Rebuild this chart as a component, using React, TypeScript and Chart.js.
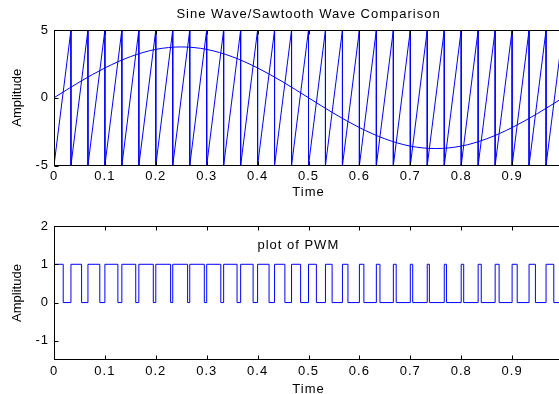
import React, { useEffect, useRef } from 'react';
import { Chart, registerables } from 'chart.js';

Chart.register(...registerables);

// ---------- data ----------
const xTickValues = [0, 0.1, 0.2, 0.3, 0.4, 0.5, 0.6, 0.7, 0.8, 0.9, 1];
const xTickLabels = ['0', '0.1', '0.2', '0.3', '0.4', '0.5', '0.6', '0.7', '0.8', '0.9', '1'];
const topYTickValues = [-5, 0, 5];
const topYTickLabels = ['-5', '0', '5'];
const bottomYTickValues = [-1, 0, 1, 2];
const bottomYTickLabels = ['-1', '0', '1', '2'];

const topTitle = 'Sine Wave/Sawtooth Wave Comparison';
const bottomNote = 'plot of PWM';
const bottomNoteAt = { x: 0.48, y: 1.5 };
const xTitle = 'Time';
const yTitle = 'Amplitude';

const sineTimes = [0, 0.05, 0.1, 0.15, 0.2, 0.25, 0.3, 0.35, 0.4, 0.45, 0.5, 0.55, 0.6, 0.65, 0.7, 0.75, 0.8, 0.85, 0.9, 0.95, 1];
const sineValues = [0, 1.16, 2.2, 3.03, 3.57, 3.75, 3.57, 3.03, 2.2, 1.16, 0, -1.16, -2.2, -3.03, -3.57, -3.75, -3.57, -3.03, -2.2, -1.16, 0];

const sawLow = -5;
const sawHigh = 5;
const sawPeakTimes = [0.0333, 0.0667, 0.1, 0.1333, 0.1667, 0.2, 0.2333, 0.2667, 0.3, 0.3333, 0.3667, 0.4, 0.4333, 0.4667, 0.5, 0.5333, 0.5667, 0.6, 0.6333, 0.6667, 0.7, 0.7333, 0.7667, 0.8, 0.8333, 0.8667, 0.9, 0.9333, 0.9667, 1.0];

const pwmTimes = [0, 0.0181, 0.0333, 0.0542, 0.0667, 0.09, 0.1, 0.1255, 0.1333, 0.1606, 0.1667, 0.1951, 0.2, 0.2291, 0.2333, 0.2625, 0.2667, 0.2953, 0.3, 0.3277, 0.3333, 0.3596, 0.3667, 0.3912, 0.4, 0.4225, 0.4333, 0.4536, 0.4667, 0.4845, 0.5, 0.5155, 0.5333, 0.5464, 0.5667, 0.5775, 0.6, 0.6088, 0.6333, 0.6404, 0.6667, 0.6723, 0.7, 0.7047, 0.7333, 0.7375, 0.7667, 0.771, 0.8, 0.8049, 0.8333, 0.8394, 0.8667, 0.8745, 0.9, 0.91, 0.9333, 0.9458, 0.9667, 0.9819, 1.0];
const pwmLevels = [1, 0, 1, 0, 1, 0, 1, 0, 1, 0, 1, 0, 1, 0, 1, 0, 1, 0, 1, 0, 1, 0, 1, 0, 1, 0, 1, 0, 1, 0, 1, 0, 1, 0, 1, 0, 1, 0, 1, 0, 1, 0, 1, 0, 1, 0, 1, 0, 1, 0, 1, 0, 1, 0, 1, 0, 1, 0, 1, 0, 1];

// ---------- styling ----------
const FONT = 'Liberation Sans, Arial, Helvetica, sans-serif';
const BLUE = '#0000ff';
const CANVAS_W = 600;
const CANVAS_H = 200;

function sawPoints() {
  const pts: { x: number; y: number }[] = [{ x: 0, y: sawLow }];
  sawPeakTimes.forEach((p, i) => {
    pts.push({ x: p, y: sawHigh });
    if (i < sawPeakTimes.length - 1) pts.push({ x: p, y: sawLow });
  });
  return pts;
}

const framePlugin = {
  id: 'matlabFrame',
  beforeDraw(chart: any) {
    chart.ctx.letterSpacing = '1px';
  },
  afterDatasetsDraw(chart: any, _args: any, opts: any) {
    const { ctx, chartArea: a, scales } = chart;
    ctx.save();
    ctx.strokeStyle = '#000';
    ctx.lineWidth = 1;
    const L = Math.round(a.left) + 0.5;
    const R = Math.round(a.right) + 0.5;
    const T = Math.round(a.top) + 0.5;
    const B = Math.round(a.bottom) - 0.5;
    ctx.strokeRect(L, T, R - L, B - T);
    const tl = 4;
    ctx.beginPath();
    scales.x.ticks.forEach((t: any) => {
      const px = Math.round(scales.x.getPixelForValue(t.value)) + 0.5;
      ctx.moveTo(px, B);
      ctx.lineTo(px, B - tl);
      ctx.moveTo(px, T);
      ctx.lineTo(px, T + tl);
    });
    scales.y.ticks.forEach((t: any) => {
      const py = Math.round(scales.y.getPixelForValue(t.value)) + 0.5;
      ctx.moveTo(L, py);
      ctx.lineTo(L + tl, py);
      ctx.moveTo(R, py);
      ctx.lineTo(R - tl, py);
    });
    ctx.stroke();
    if (opts && opts.note) {
      ctx.fillStyle = '#000';
      ctx.font = `13px ${FONT}`;
      ctx.textAlign = 'center';
      ctx.textBaseline = 'middle';
      ctx.fillText(
        opts.note.text,
        scales.x.getPixelForValue(opts.note.x),
        scales.y.getPixelForValue(opts.note.y)
      );
    }
    ctx.restore();
  },
  afterDraw(chart: any) {
    chart.ctx.letterSpacing = '0px';
  },
};

function makeOptions(cfg: {
  yMin: number;
  yMax: number;
  yTicks: number[];
  yLabels: string[];
  xAxisHeight: number;
  xTickPad: number;
  xTitlePadBottom: number;
  padTop: number;
  title?: string;
  note?: any;
}) {
  const tickFont = { family: FONT, size: 13 };
  return {
    responsive: false,
    animation: false,
    events: [],
    layout: { padding: { left: 0, right: CANVAS_W - 563, top: cfg.padTop, bottom: 0 } },
    plugins: {
      legend: { display: false },
      tooltip: { enabled: false },
      title: cfg.title
        ? {
            display: true,
            text: cfg.title,
            fullSize: false,
            color: '#000',
            font: { family: FONT, size: 13, weight: 'normal' },
            padding: { top: 7, bottom: 7.4 },
          }
        : { display: false },
      matlabFrame: { note: cfg.note },
    },
    scales: {
      x: {
        type: 'linear',
        min: 0,
        max: 1,
        grid: { display: false, drawTicks: false },
        border: { display: false },
        afterBuildTicks: (s: any) => {
          s.ticks = xTickValues.map((v) => ({ value: v }));
        },
        afterFit: (s: any) => {
          s.height = cfg.xAxisHeight;
        },
        ticks: {
          autoSkip: false,
          maxRotation: 0,
          minRotation: 0,
          padding: cfg.xTickPad,
          color: '#000',
          font: tickFont,
          callback: (_v: any, i: number) => xTickLabels[i],
        },
        title: {
          display: true,
          text: xTitle,
          color: '#000',
          font: tickFont,
          padding: { top: 0, bottom: cfg.xTitlePadBottom },
        },
      },
      y: {
        type: 'linear',
        min: cfg.yMin,
        max: cfg.yMax,
        grid: { display: false, drawTicks: false },
        border: { display: false },
        afterBuildTicks: (s: any) => {
          s.ticks = cfg.yTicks.map((v) => ({ value: v }));
        },
        afterFit: (s: any) => {
          s.width = 54;
          if (!s.__noSpacingTitle) {
            const orig = s.drawTitle.bind(s);
            s.drawTitle = () => {
              const c = s.ctx;
              const prev = c.letterSpacing;
              c.letterSpacing = '0px';
              orig();
              c.letterSpacing = prev;
            };
            s.__noSpacingTitle = true;
          }
        },
        ticks: {
          padding: 5,
          color: '#000',
          font: tickFont,
          callback: (_v: any, i: number) => cfg.yLabels[i],
        },
        title: {
          display: true,
          text: yTitle,
          color: '#000',
          font: tickFont,
          padding: { top: 10, bottom: 0 },
        },
      },
    },
  };
}

export default function App() {
  const topRef = useRef<HTMLCanvasElement | null>(null);
  const botRef = useRef<HTMLCanvasElement | null>(null);

  useEffect(() => {
    const lineBase = {
      borderColor: BLUE,
      borderWidth: 1,
      pointRadius: 0,
      fill: false,
    };
    const top = new Chart(topRef.current as HTMLCanvasElement, {
      type: 'line',
      data: {
        datasets: [
          { ...lineBase, label: 'Sawtooth', data: sawPoints(), tension: 0 },
          {
            ...lineBase,
            label: 'Sine',
            data: sineTimes.map((t, i) => ({ x: t, y: sineValues[i] })),
            cubicInterpolationMode: 'monotone',
          },
        ],
      },
      options: makeOptions({
        yMin: -5,
        yMax: 5,
        yTicks: topYTickValues,
        yLabels: topYTickLabels,
        xAxisHeight: CANVAS_H - 165.5,
        xTickPad: 3,
        xTitlePadBottom: 0,
        padTop: 0,
        title: topTitle,
      }) as any,
      plugins: [framePlugin],
    });

    const bottom = new Chart(botRef.current as HTMLCanvasElement, {
      type: 'line',
      data: {
        datasets: [
          {
            ...lineBase,
            label: 'PWM',
            data: pwmTimes.map((t, i) => ({ x: t, y: pwmLevels[i] })),
            stepped: 'before',
          },
        ],
      },
      options: makeOptions({
        yMin: -1.5,
        yMax: 2,
        yTicks: bottomYTickValues,
        yLabels: bottomYTickLabels,
        xAxisHeight: CANVAS_H - 160,
        xTickPad: 4,
        xTitlePadBottom: 3,
        padTop: 26,
        note: { text: bottomNote, x: bottomNoteAt.x, y: bottomNoteAt.y },
      }) as any,
      plugins: [framePlugin],
    });

    return () => {
      top.destroy();
      bottom.destroy();
    };
  }, []);

  return (
    <div
      style={{
        position: 'absolute',
        left: 0,
        top: 0,
        width: 559,
        height: 394,
        overflow: 'hidden',
        background: '#fff',
      }}
    >
      <canvas
        ref={topRef}
        width={CANVAS_W}
        height={CANVAS_H}
        style={{ position: 'absolute', left: 0, top: 0, width: CANVAS_W, height: CANVAS_H }}
      />
      <canvas
        ref={botRef}
        width={CANVAS_W}
        height={CANVAS_H}
        style={{ position: 'absolute', left: 0, top: 200, width: CANVAS_W, height: CANVAS_H }}
      />
    </div>
  );
}
